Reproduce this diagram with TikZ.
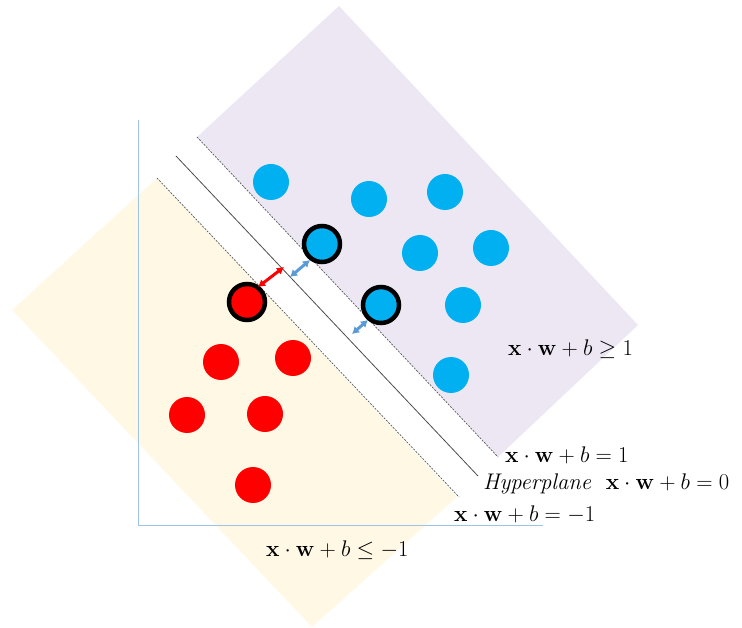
\documentclass[tikz,border=0pt]{standalone}
\usetikzlibrary{arrows.meta}
\definecolor{purp}{RGB}{237,231,243}
\definecolor{yell}{RGB}{255,248,229}
\definecolor{cblue}{RGB}{0,176,240}
\definecolor{axisblue}{RGB}{157,195,230}
\definecolor{arrblue}{RGB}{91,155,213}
\begin{document}
\begin{tikzpicture}[x=1pt,y=-1pt,
  pt/.style={circle,minimum size=36pt,inner sep=0pt},
  bpt/.style={pt,fill=cblue},
  rpt/.style={pt,fill=red},
  sv/.style={draw=black,line width=4.5pt},
  margin/.style={black!65,line width=0.7pt,dash pattern=on 2pt off 1.3pt},
  hyper/.style={black!70,line width=0.8pt},
  axis/.style={axisblue,line width=1pt},
  dist/.style={line width=3pt,{Latex[length=7pt,width=8.5pt]}-{Latex[length=7pt,width=8.5pt]}},
  lab/.style={font=\huge,scale=1.09,anchor=west,inner sep=0pt}]
\useasboundingbox (0,0) rectangle (742,628);
% half-planes
\fill[purp] (339,6) -- (638,325) -- (498,457) -- (197,137) -- cycle;
\fill[yell] (157,178) -- (457,497) -- (312,627) -- (12,310) -- cycle;
% axes
\coordinate (o) at (138,525);
\coordinate (ytop) at (138,120);
\coordinate (xend) at (543,525);
\draw[axis] (ytop) -- (o) -- (xend);
% margins and hyperplane
\coordinate (p1) at (197,137); \coordinate (p2) at (498,457);
\coordinate (h1) at (176,156); \coordinate (h2) at (478,476);
\coordinate (m1) at (157,178); \coordinate (m2) at (459,497);
\draw[margin] (p1) -- (p2);
\draw[hyper] (h1) -- (h2);
\draw[margin] (m1) -- (m2);
% blue points
\node[bpt] (b1) at (271,182) {};
\node[bpt] (b2) at (369,199) {};
\node[bpt] (b3) at (445,192) {};
\node[bpt,sv] (b4) at (322,244) {};
\node[bpt] (b5) at (420,253) {};
\node[bpt] (b6) at (491,248) {};
\node[bpt,sv] (b7) at (381,305) {};
\node[bpt] (b8) at (463,305) {};
\node[bpt] (b9) at (451,375) {};
% red points
\node[rpt,sv] (r1) at (247,302) {};
\node[rpt] (r2) at (221,362) {};
\node[rpt] (r3) at (293,358) {};
\node[rpt] (r4) at (187,415) {};
\node[rpt] (r5) at (265,414) {};
\node[rpt] (r6) at (253,485) {};
% distance arrows
\coordinate (ra) at (258,287); \coordinate (rb) at (284,267);
\coordinate (ba) at (290,277); \coordinate (bb) at (310,260);
\coordinate (ca) at (352,334); \coordinate (cb) at (368,320);
\draw[dist,red] (ra) -- (rb);
\draw[dist,arrblue] (ba) -- (bb);
\draw[dist,arrblue] (ca) -- (cb);
% labels
\node[lab] (l1) at (508,349) {$\mathbf{x}\cdot\mathbf{w}+b\geq 1$};
\node[lab] (l2) at (505,455) {$\mathbf{x}\cdot\mathbf{w}+b=1$};
\node[lab] (l3) at (483,484) {\textit{Hyperplane}\hspace{0.65em}$\mathbf{x}\cdot\mathbf{w}+b=0$};
\node[lab] (l4) at (454,515) {$\mathbf{x}\cdot\mathbf{w}+b=-1$};
\node[lab] (l5) at (266,550) {$\mathbf{x}\cdot\mathbf{w}+b\leq -1$};
\end{tikzpicture}
\end{document}
